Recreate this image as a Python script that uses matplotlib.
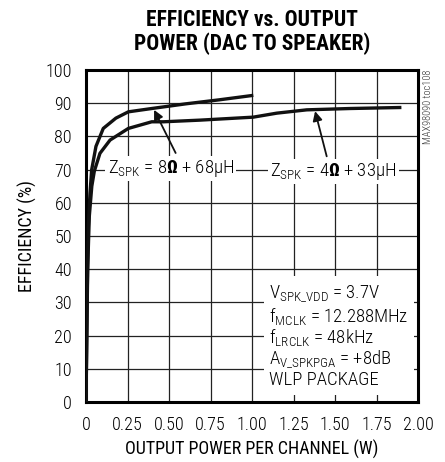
import matplotlib
matplotlib.use("Agg")
import matplotlib.pyplot as plt
import numpy as np

# efficiency curves, read in W / %
p_8ohm = [0.0, 0.008, 0.014, 0.024, 0.034, 0.06, 0.104, 0.18, 0.255, 0.396, 0.6, 0.8, 0.998]
eff_8ohm = [0.0, 35.0, 52.8, 62.9, 69.9, 77.0, 82.4, 85.5, 87.4, 88.4, 89.8, 91.0, 92.3]

p_4ohm = [0.0, 0.01, 0.02, 0.035, 0.05, 0.084, 0.145, 0.255, 0.396, 0.466, 0.687, 1.008, 1.149, 1.33, 1.59, 1.89]
eff_4ohm = [0.0, 40.0, 56.0, 65.0, 69.5, 74.9, 78.9, 82.4, 84.4, 84.4, 84.9, 85.8, 87.0, 88.0, 88.4, 88.7]

x_ticks = [0, 0.25, 0.5, 0.75, 1.0, 1.25, 1.5, 1.75, 2.0]
x_labels = ["0", "0.25", "0.50", "0.75", "1.00", "1.25", "1.50", "1.75", "2.00"]
y_ticks = list(range(0, 101, 10))

cond_lines = [r"V$_{\mathrm{SPK\_VDD}}$ = 3.7V",
              r"f$_{\mathrm{MCLK}}$ = 12.288MHz",
              r"f$_{\mathrm{LRCLK}}$ = 48kHz",
              r"A$_{\mathrm{V\_SPKPGA}}$ = +8dB",
              "WLP PACKAGE"]

plt.rcParams["font.family"] = ["Roboto Condensed", "DejaVu Sans"]
plt.rcParams["font.weight"] = "light"
plt.rcParams["mathtext.fontset"] = "custom"
plt.rcParams["mathtext.rm"] = "Roboto Condensed:light"
plt.rcParams["mathtext.it"] = "Roboto Condensed:light"
plt.rcParams["mathtext.bf"] = "Roboto Condensed:bold"

fig = plt.figure(figsize=(4.45, 4.62), dpi=100)
ax = fig.add_axes([86 / 445, 1 - 402 / 462, 332 / 445, 332 / 462])

ax.set_xlim(0, 2.0)
ax.set_ylim(0, 100)
ax.set_xticks(x_ticks)
ax.set_xticklabels(x_labels)
ax.set_yticks(y_ticks)
ax.tick_params(length=0, labelsize=13, pad=10)
ax.grid(True, color="#222222", linewidth=0.9)
ax.set_axisbelow(True)
for s in ax.spines.values():
    s.set_linewidth(2.2)

ax.plot(p_8ohm, eff_8ohm, color="#111111", linewidth=2.4, zorder=3)
ax.plot(p_4ohm, eff_4ohm, color="#111111", linewidth=2.4, zorder=3)

box = dict(facecolor="white", edgecolor="none", pad=1.5)
ax.text(0.51, 70.3, r"Z$_{\mathrm{SPK}}$ = 8$\mathbf{\Omega}$ + 68μH", fontsize=13.5,
        ha="center", va="center", bbox=box, zorder=4)
ax.text(1.49, 69.5, r"Z$_{\mathrm{SPK}}$ = 4$\mathbf{\Omega}$ + 33μH", fontsize=13.5,
        ha="center", va="center", bbox=box, zorder=4)

arrow = dict(arrowstyle="-|>", color="#111111", lw=1.3, mutation_scale=14, shrinkA=0, shrinkB=0)
ax.annotate("", xy=(0.41, 88.0), xytext=(0.54, 75.0), arrowprops=arrow, zorder=5)
ax.annotate("", xy=(1.38, 87.6), xytext=(1.45, 74.0), arrowprops=arrow, zorder=5)

ax.text(1.105, 3.8, "\n".join(cond_lines), fontsize=13.5, linespacing=1.05,
        ha="left", va="bottom", zorder=4,
        bbox=dict(facecolor="white", edgecolor="none", pad=4))

ax.set_xlabel("OUTPUT POWER PER CHANNEL (W)", fontsize=13, labelpad=4)
ax.set_ylabel("EFFICIENCY (%)", fontsize=13, labelpad=6)

fig.text(252 / 445, 1 - 32 / 462, "EFFICIENCY vs. OUTPUT\nPOWER (DAC TO SPEAKER)",
         ha="center", va="center", fontsize=15.5, fontweight="bold", linespacing=1.1)
fig.text(428 / 445, 1 - 70 / 462, "MAX98090 toc108", rotation=90, ha="center", va="top",
         fontsize=7.5, color="#333333")

fig.savefig("out.png", dpi=100)
